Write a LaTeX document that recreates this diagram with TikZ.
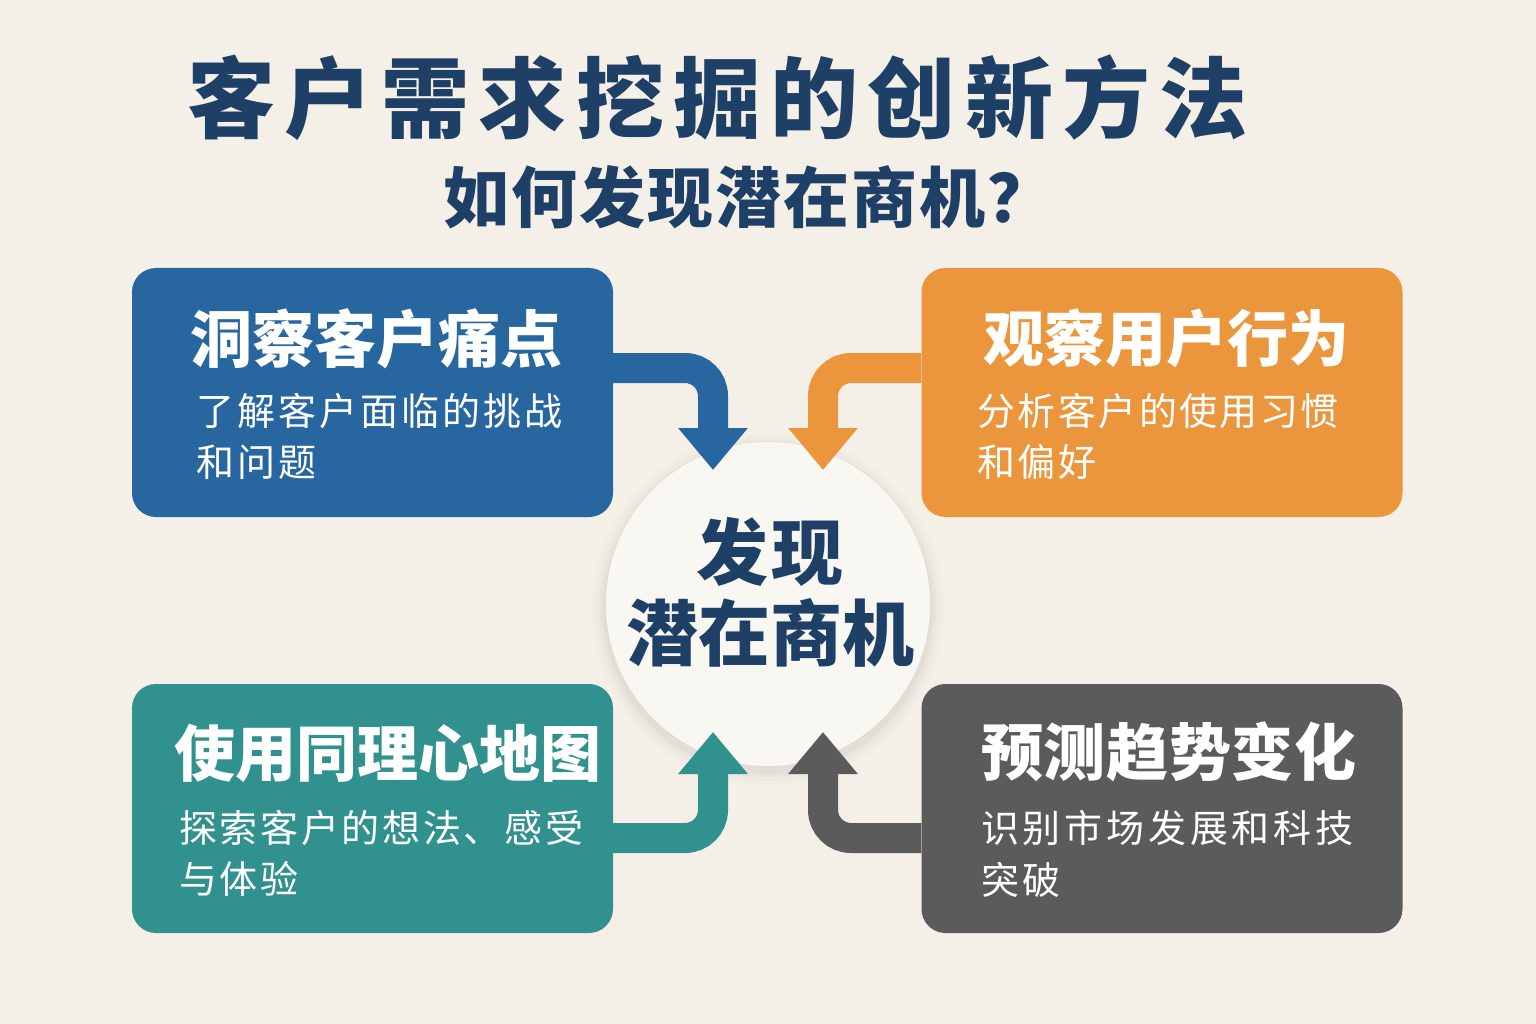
\documentclass[tikz,border=0pt]{standalone}
\usepackage{fontspec}
\setmainfont{Noto Sans CJK SC}
\usetikzlibrary{arrows.meta,calc}
\definecolor{bg}{HTML}{F4F0E8}
\definecolor{navy}{HTML}{1E3F66}
\definecolor{cblue}{HTML}{2866A0}
\definecolor{corange}{HTML}{EB963C}
\definecolor{cteal}{HTML}{30918F}
\definecolor{cgray}{HTML}{5B5B5B}
\definecolor{circ}{HTML}{F9F7F2}
\newcommand{\ls}[1]{\addfontfeature{LetterSpace=#1}}
\tikzset{
  card/.style={rounded corners=24pt, minimum width=481pt, minimum height=249pt, inner sep=0pt, draw=none},
  ttl/.style={anchor=west, inner sep=0pt, text=white, font=\fontsize{62}{72}\selectfont\bfseries},
  body/.style={anchor=west, inner sep=0pt, text=white, font=\fontsize{38}{44}\selectfont},
  flow/.style={line width=30pt, rounded corners=28pt, -{Triangle[width=67pt,length=42pt]}},
}
\begin{document}
\begin{tikzpicture}[x=1pt,y=-1pt]
\fill[bg] (0,0) rectangle (1536,1024);
\useasboundingbox (0,0) rectangle (1536,1024);

% title
\node[anchor=west, inner sep=0pt, text=navy, font=\fontsize{88}{98}\selectfont\bfseries\ls{10.5}] (title) at (187,98) {客户需求挖掘的创新方法};
\node[anchor=west, inner sep=0pt, text=navy, font=\fontsize{66}{76}\selectfont\bfseries\ls{3}] (sub) at (443,197) {如何发现潜在商机？};

% center circle with soft halo
\foreach \r/\o in {176/0.012,172/0.015,168/0.02,165/0.025}{
  \fill[black, opacity=\o] (768,609) circle (\r);
}
\node[circle, fill=circ, minimum size=324pt, inner sep=0pt] (c) at (768,604) {};
\node[text=navy, inner sep=0pt, font=\fontsize{72}{80}\selectfont\bfseries\ls{4}] (c1) at (770,552) {发现};
\node[text=navy, inner sep=0pt, font=\fontsize{72}{80}\selectfont\bfseries] (c2) at (770,633) {潜在商机};

% cards
\node[card, fill=cblue] (b1) at (372.5,392.5) {};
\node[card, fill=corange] (b2) at (1162,392.5) {};
\node[card, fill=cteal] (b3) at (372.5,808.5) {};
\node[card, fill=cgray] (b4) at (1162,808.5) {};

% card texts
\node[ttl] (b1t) at (190,339) {洞察客户痛点};
\node[body, font=\fontsize{38}{44}\selectfont\ls{8}] (b1a) at (196,411) {了解客户面临的挑战};
\node[body, font=\fontsize{38}{44}\selectfont\ls{8}] (b1b) at (196,462) {和问题};

\node[ttl, font=\fontsize{61}{72}\selectfont\bfseries] (b2t) at (983,338) {观察用户行为};
\node[body, font=\fontsize{38}{44}\selectfont\ls{6.5}] (b2a) at (977,411) {分析客户的使用习惯};
\node[body, font=\fontsize{38}{44}\selectfont\ls{6.5}] (b2b) at (977,462) {和偏好};

\node[ttl, font=\fontsize{61}{72}\selectfont\bfseries] (b3t) at (174,753) {使用同理心地图};
\node[body, font=\fontsize{38}{44}\selectfont\ls{7}] (b3a) at (179,828) {探索客户的想法、感受};
\node[body, font=\fontsize{38}{44}\selectfont\ls{7}] (b3b) at (179,879) {与体验};

\node[ttl, font=\fontsize{62}{72}\selectfont\bfseries\ls{1}] (b4t) at (981,752) {预测趋势变化};
\node[body, font=\fontsize{38}{44}\selectfont\ls{10}] (b4a) at (981,828) {识别市场发展和科技};
\node[body, font=\fontsize{38}{44}\selectfont\ls{10}] (b4b) at (981,880) {突破};

% arrow tips
\coordinate (t1) at (713,470);
\coordinate (t2) at (823,470);
\coordinate (t3) at (713,732);
\coordinate (t4) at (823,732);
\coordinate (h1) at (0,368);
\coordinate (h3) at (0,838);

\draw[flow, cblue] (b1.east |- h1) -| (t1);
\draw[flow, corange] (b2.west |- h1) -| (t2);
\draw[flow, cteal] (b3.east |- h3) -| (t3);
\draw[flow, cgray] (b4.west |- h3) -| (t4);
\end{tikzpicture}
\end{document}
